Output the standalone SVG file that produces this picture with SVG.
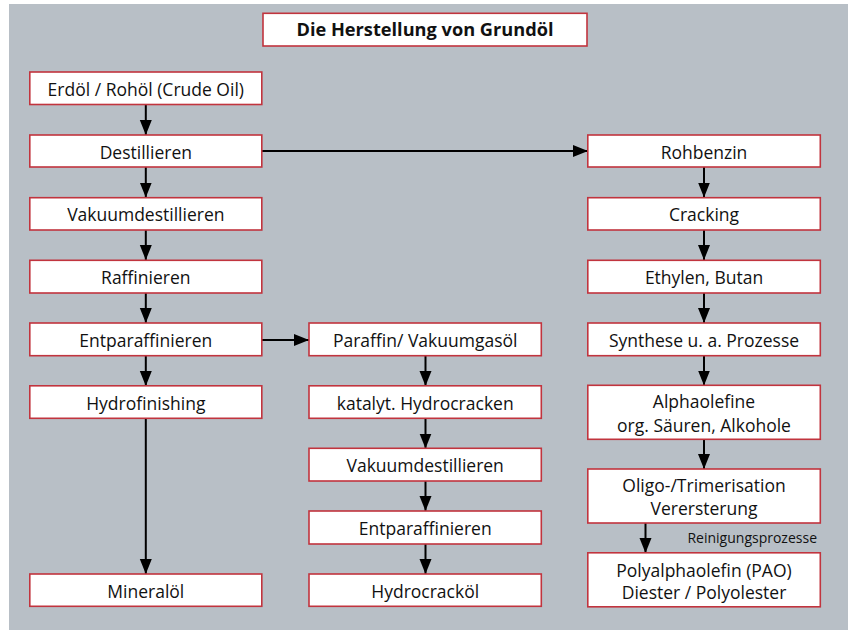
<svg xmlns="http://www.w3.org/2000/svg" width="848" height="630" viewBox="0 0 848 630">
<style>
.bg{fill:#b8bfc6}
.box{fill:#ffffff;stroke:#c1343e;stroke-width:1.6}
.t{font-family:"Open Sans","Noto Sans","Liberation Sans",sans-serif;font-size:17.5px;fill:#111;text-anchor:middle}
.title{font-weight:bold;font-size:18.2px}
.small{font-family:"Open Sans","Noto Sans","Liberation Sans",sans-serif;font-size:14px;fill:#111;text-anchor:end}
.c{stroke:#000;stroke-width:2;fill:none;marker-end:url(#ah)}
</style>
<defs>
<marker id="ah" markerUnits="userSpaceOnUse" markerWidth="16" markerHeight="13" refX="15" refY="6.5" orient="auto">
<path d="M0,0.5 L15,6.5 L0,12.5 Z" fill="#000"/>
</marker>
</defs>
<rect class="bg" x="9" y="4" width="839" height="626"/>

<g id="connectors">
<line class="c" x1="145.8" y1="105" x2="145.8" y2="135"/>
<line class="c" x1="145.8" y1="167" x2="145.8" y2="197.5"/>
<line class="c" x1="145.8" y1="230" x2="145.8" y2="260"/>
<line class="c" x1="145.8" y1="293" x2="145.8" y2="323"/>
<line class="c" x1="145.8" y1="356" x2="145.8" y2="386"/>
<line class="c" x1="145.8" y1="418.5" x2="145.8" y2="574"/>
<line class="c" x1="425.5" y1="356" x2="425.5" y2="386"/>
<line class="c" x1="425.5" y1="418.5" x2="425.5" y2="448.5"/>
<line class="c" x1="425.5" y1="481" x2="425.5" y2="511"/>
<line class="c" x1="425.5" y1="544" x2="425.5" y2="574"/>
<line class="c" x1="704" y1="167" x2="704" y2="197.5"/>
<line class="c" x1="704" y1="230" x2="704" y2="260"/>
<line class="c" x1="704" y1="293" x2="704" y2="323"/>
<line class="c" x1="704" y1="356" x2="704" y2="385.5"/>
<line class="c" x1="704" y1="439.5" x2="704" y2="469"/>
<line class="c" x1="645.5" y1="523" x2="645.5" y2="553"/>
<line class="c" x1="262" y1="151" x2="588" y2="151"/>
<line class="c" x1="262" y1="340" x2="309" y2="340"/>
</g>

<g id="title"><rect class="box" x="263" y="13.3" width="324" height="32.7"/><text class="t title" x="425" y="36.3">Die Herstellung von Grundöl</text></g>

<g id="erdoel"><rect class="box" x="29.8" y="72" width="232" height="32.5"/><text class="t" x="145.8" y="96">Erdöl / Rohöl (Crude Oil)</text></g>
<g id="destillieren"><rect class="box" x="29.8" y="135" width="232" height="32"/><text class="t" x="145.8" y="158.5">Destillieren</text></g>
<g id="vakuumdestillieren1"><rect class="box" x="29.8" y="197.7" width="232" height="32.3"/><text class="t" x="145.8" y="221.3">Vakuumdestillieren</text></g>
<g id="raffinieren"><rect class="box" x="29.8" y="260.3" width="232" height="32.7"/><text class="t" x="145.8" y="284">Raffinieren</text></g>
<g id="entparaffinieren1"><rect class="box" x="29.8" y="323" width="232" height="32.7"/><text class="t" x="145.8" y="346.8">Entparaffinieren</text></g>
<g id="hydrofinishing"><rect class="box" x="29.8" y="385.8" width="232" height="32.5"/><text class="t" x="145.8" y="409.5">Hydrofinishing</text></g>
<g id="mineraloel"><rect class="box" x="29.8" y="574" width="232" height="32.3"/><text class="t" x="145.8" y="597.5">Mineralöl</text></g>

<g id="paraffin"><rect class="box" x="309" y="323" width="232.3" height="32.7"/><text class="t" x="425.2" y="346.8">Paraffin/ Vakuumgasöl</text></g>
<g id="hydrocracken"><rect class="box" x="309" y="385.8" width="232.3" height="32.5"/><text class="t" x="425.2" y="409.5">katalyt. Hydrocracken</text></g>
<g id="vakuumdestillieren2"><rect class="box" x="309" y="448.3" width="232.3" height="32.7"/><text class="t" x="425.2" y="472">Vakuumdestillieren</text></g>
<g id="entparaffinieren2"><rect class="box" x="309" y="511" width="232.3" height="33"/><text class="t" x="425.2" y="535">Entparaffinieren</text></g>
<g id="hydrocrackoel"><rect class="box" x="309" y="574" width="232.3" height="32.3"/><text class="t" x="425.2" y="597.5">Hydrocracköl</text></g>

<g id="rohbenzin"><rect class="box" x="587.8" y="135" width="232.5" height="32"/><text class="t" x="704" y="158.5">Rohbenzin</text></g>
<g id="cracking"><rect class="box" x="587.8" y="197.7" width="232.5" height="32.3"/><text class="t" x="704" y="221.3">Cracking</text></g>
<g id="ethylen"><rect class="box" x="587.8" y="260.3" width="232.5" height="32.7"/><text class="t" x="704" y="284">Ethylen, Butan</text></g>
<g id="synthese"><rect class="box" x="587.8" y="323" width="232.5" height="32.7"/><text class="t" x="704" y="346.8">Synthese u. a. Prozesse</text></g>
<g id="alphaolefine"><rect class="box" x="587.8" y="385.3" width="232.5" height="54"/><text class="t" x="704" y="407.7">Alphaolefine</text><text class="t" x="704" y="431.5">org. Säuren, Alkohole</text></g>
<g id="oligo"><rect class="box" x="587.8" y="469" width="232.5" height="54"/><text class="t" x="704" y="491.7">Oligo-/Trimerisation</text><text class="t" x="704" y="515">Verersterung</text></g>
<g id="reinigung"><text class="small" x="817" y="542.5">Reinigungsprozesse</text></g>
<g id="pao"><rect class="box" x="587.8" y="552.8" width="232.5" height="54"/><text class="t" x="704" y="576.7">Polyalphaolefin (PAO)</text><text class="t" x="704" y="598.8">Diester / Polyolester</text></g>
</svg>
